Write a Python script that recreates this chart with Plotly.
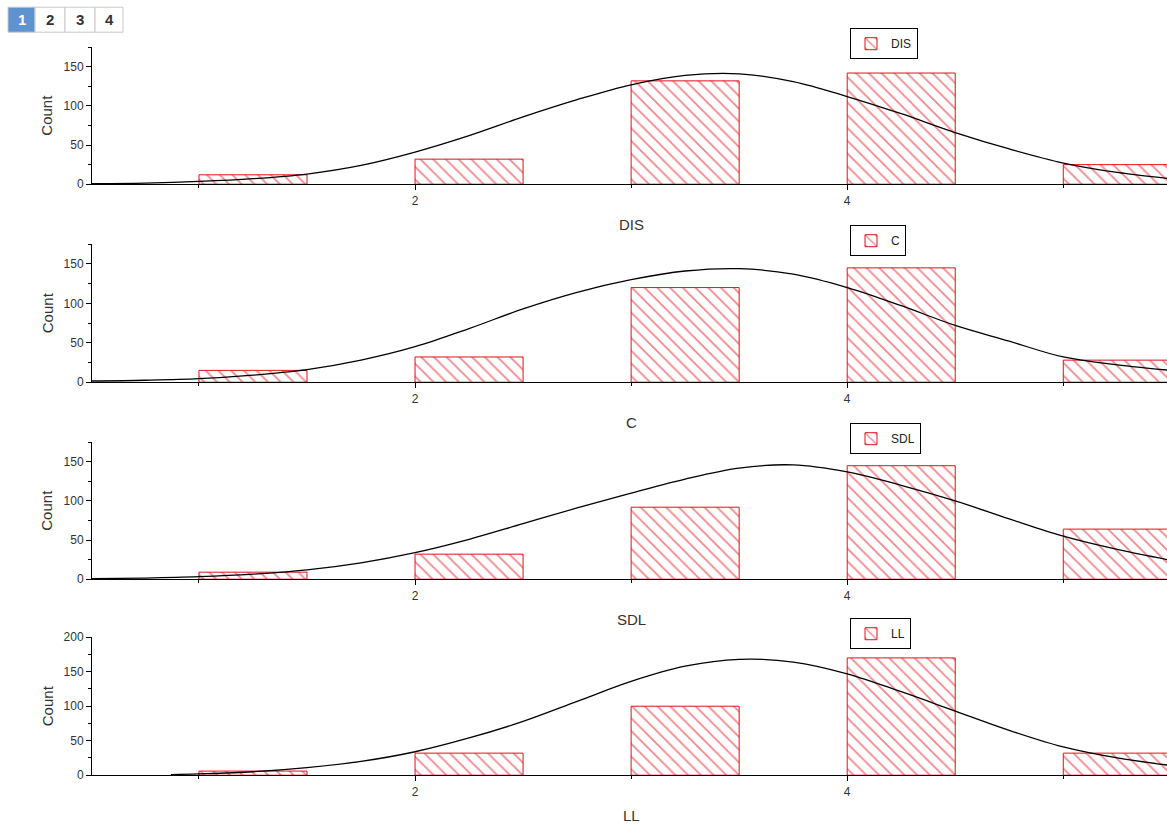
import plotly.graph_objects as go

# ---------------- data ----------------
bins = [1, 2, 3, 4, 5]
dis_counts = [12, 32, 132, 142, 25]
c_counts = [15, 32, 120, 145, 28]
sdl_counts = [9, 32, 92, 145, 64]
ll_counts = [6, 32, 100, 170, 32]

fit_x = [0.5, 0.75, 1.0, 1.25, 1.5, 1.75, 2.0, 2.25, 2.5, 2.75, 3.0,
         3.25, 3.5, 3.75, 4.0, 4.25, 4.5, 4.75, 5.0, 5.25, 5.5]
dis_fit = [0.8, 1.5, 3.5, 7, 13, 24, 41, 62, 86, 108, 127,
           139, 141, 131, 112, 90, 66, 45, 27, 15, 7]
c_fit = [1.5, 2.5, 4.5, 9, 16, 28, 45, 68, 93, 114, 130,
         141, 144, 137, 120, 97, 72, 52, 32, 22, 15]
sdl_fit = [0.7, 1.5, 3.2, 6.5, 12, 21, 34, 51, 71, 91, 110,
           128, 142, 146, 137, 120, 100, 77, 55, 38, 24]
ll_fit_x = [0.87, 1.0, 1.25, 1.5, 1.75, 2.0, 2.25, 2.5, 2.75, 3.0,
            3.25, 3.5, 3.75, 4.0, 4.25, 4.5, 4.75, 5.0, 5.25, 5.5]
ll_fit = [1, 2, 5, 11, 20, 34, 54, 78, 107, 136,
          158, 168, 164, 147, 121, 93, 65, 41, 25, 14]

names = ["DIS", "C", "SDL", "LL"]
y_ranges = [[0, 175], [0, 175], [0, 175], [0, 200]]
tabs = ["1", "2", "3", "4"]

panels = [
    (dis_counts, fit_x, dis_fit),
    (c_counts, fit_x, c_fit),
    (sdl_counts, fit_x, sdl_fit),
    (ll_counts, ll_fit_x, ll_fit),
]

# ---------------- layout helpers (pixels -> paper) ----------------
W, H = 1167, 825
V_SCALE, V_OFF = 0.983, 6.8   # empirical correction for the vertical capture
def px(x):
    return x / W
def py(y):
    yy = (y - V_OFF) / V_SCALE
    return min(1.0, 1 - yy / H)

panel_px = [(47, 184), (244, 382), (442, 579), (637, 775)]  # top, bottom
FONT = "Liberation Sans, Arial, sans-serif"
RED = "#e0101c"

fig = go.Figure()
layout = dict(
    width=W, height=H, autosize=False,
    margin=dict(l=0, r=0, t=0, b=0),
    paper_bgcolor="white", plot_bgcolor="white",
    showlegend=True, barmode="overlay",
    font=dict(family=FONT, size=12, color="#333333"),
)
annotations = []
shapes = []

for i, ((counts, fx, fy), name) in enumerate(zip(panels, names)):
    k = "" if i == 0 else str(i + 1)
    xa, ya = "x" + k, "y" + k
    leg = "legend" + k
    fig.add_trace(go.Bar(
        x=bins, y=counts, width=0.5, offset=0, name=name,
        xaxis=xa, yaxis=ya, legend=leg,
        marker=dict(color=RED, line=dict(color=RED, width=1),
                    pattern=dict(shape="\\", size=9, solidity=0.2,
                                 fgcolor=RED, bgcolor="white")),
        showlegend=True,
    ))
    fig.add_trace(go.Scatter(
        x=fx, y=fy, mode="lines", xaxis=xa, yaxis=ya,
        line=dict(color="black", width=1.3, shape="spline", smoothing=1.0),
        showlegend=False, hoverinfo="skip",
    ))
    top, bot = panel_px[i]
    layout["xaxis" + k] = dict(
        domain=[px(92), 1], range=[0.505, 5.48], anchor=ya,
        showgrid=False, zeroline=False, showline=True, linecolor="black",
        linewidth=1, ticks="outside", ticklen=5, tickcolor="black",
        tick0=0, dtick=2, tickfont=dict(size=12, color="#333333"),
        minor=dict(ticks="outside", ticklen=3, dtick=1, tick0=0,
                   tickcolor="black", showgrid=False),
        fixedrange=True,
    )
    layout["yaxis" + k] = dict(
        domain=[py(bot), py(top)], range=y_ranges[i], anchor=xa,
        showgrid=False, zeroline=False, showline=True, linecolor="black",
        linewidth=1, ticks="outside", ticklen=5, tickcolor="black",
        dtick=50, tickfont=dict(size=12, color="#333333"),
        minor=dict(ticks="outside", ticklen=3, dtick=25,
                   tickcolor="black", showgrid=False),
        fixedrange=True,
    )
    layout[leg] = dict(
        x=px(850), y=py(top - 19), xanchor="left", yanchor="top",
        bgcolor="white", bordercolor="black", borderwidth=1,
        font=dict(size=12, color="#222222", family=FONT),
        itemwidth=30, tracegroupgap=0,
    )
    # axis titles
    annotations.append(dict(
        text=name, x=px(631), y=py(bot + 40), xref="paper", yref="paper",
        showarrow=False, font=dict(size=15, color="#333333", family=FONT),
        xanchor="center", yanchor="middle",
    ))
    annotations.append(dict(
        text="Count", x=px(47), y=py((top + bot) / 2), xref="paper", yref="paper",
        showarrow=False, textangle=-90,
        font=dict(size=15, color="#333333", family=FONT),
        xanchor="center", yanchor="middle",
    ))

# page tabs (top-left)
tab_edges = [8, 35, 65, 95, 123]
for j, t in enumerate(tabs):
    x0, x1 = tab_edges[j], tab_edges[j + 1]
    active = j == 0
    shapes.append(dict(
        type="rect", xref="paper", yref="paper",
        x0=px(x0), x1=px(x1), y0=py(32), y1=py(7),
        fillcolor="#5f93cf" if active else "white",
        line=dict(color="#c8c8c8", width=1), layer="above",
    ))
    annotations.append(dict(
        text="<b>%s</b>" % t, x=px((x0 + x1) / 2), y=py(19.5),
        xref="paper", yref="paper", showarrow=False,
        font=dict(size=15, color="white" if active else "#333333", family=FONT),
        xanchor="center", yanchor="middle",
    ))

layout["annotations"] = annotations
layout["shapes"] = shapes
fig.update_layout(**layout)
fig.write_html(
    "out.html",
    config={"displayModeBar": False},
    post_script=(
        "document.documentElement.style.margin='0';"
        "document.documentElement.style.overflow='hidden';"
        "document.body.style.margin='0';"
        "document.body.style.overflow='hidden';"
        "var d=document.getElementById('{plot_id}');"
        "d.style.position='fixed';d.style.top='0px';d.style.left='0px';"
    ),
)
